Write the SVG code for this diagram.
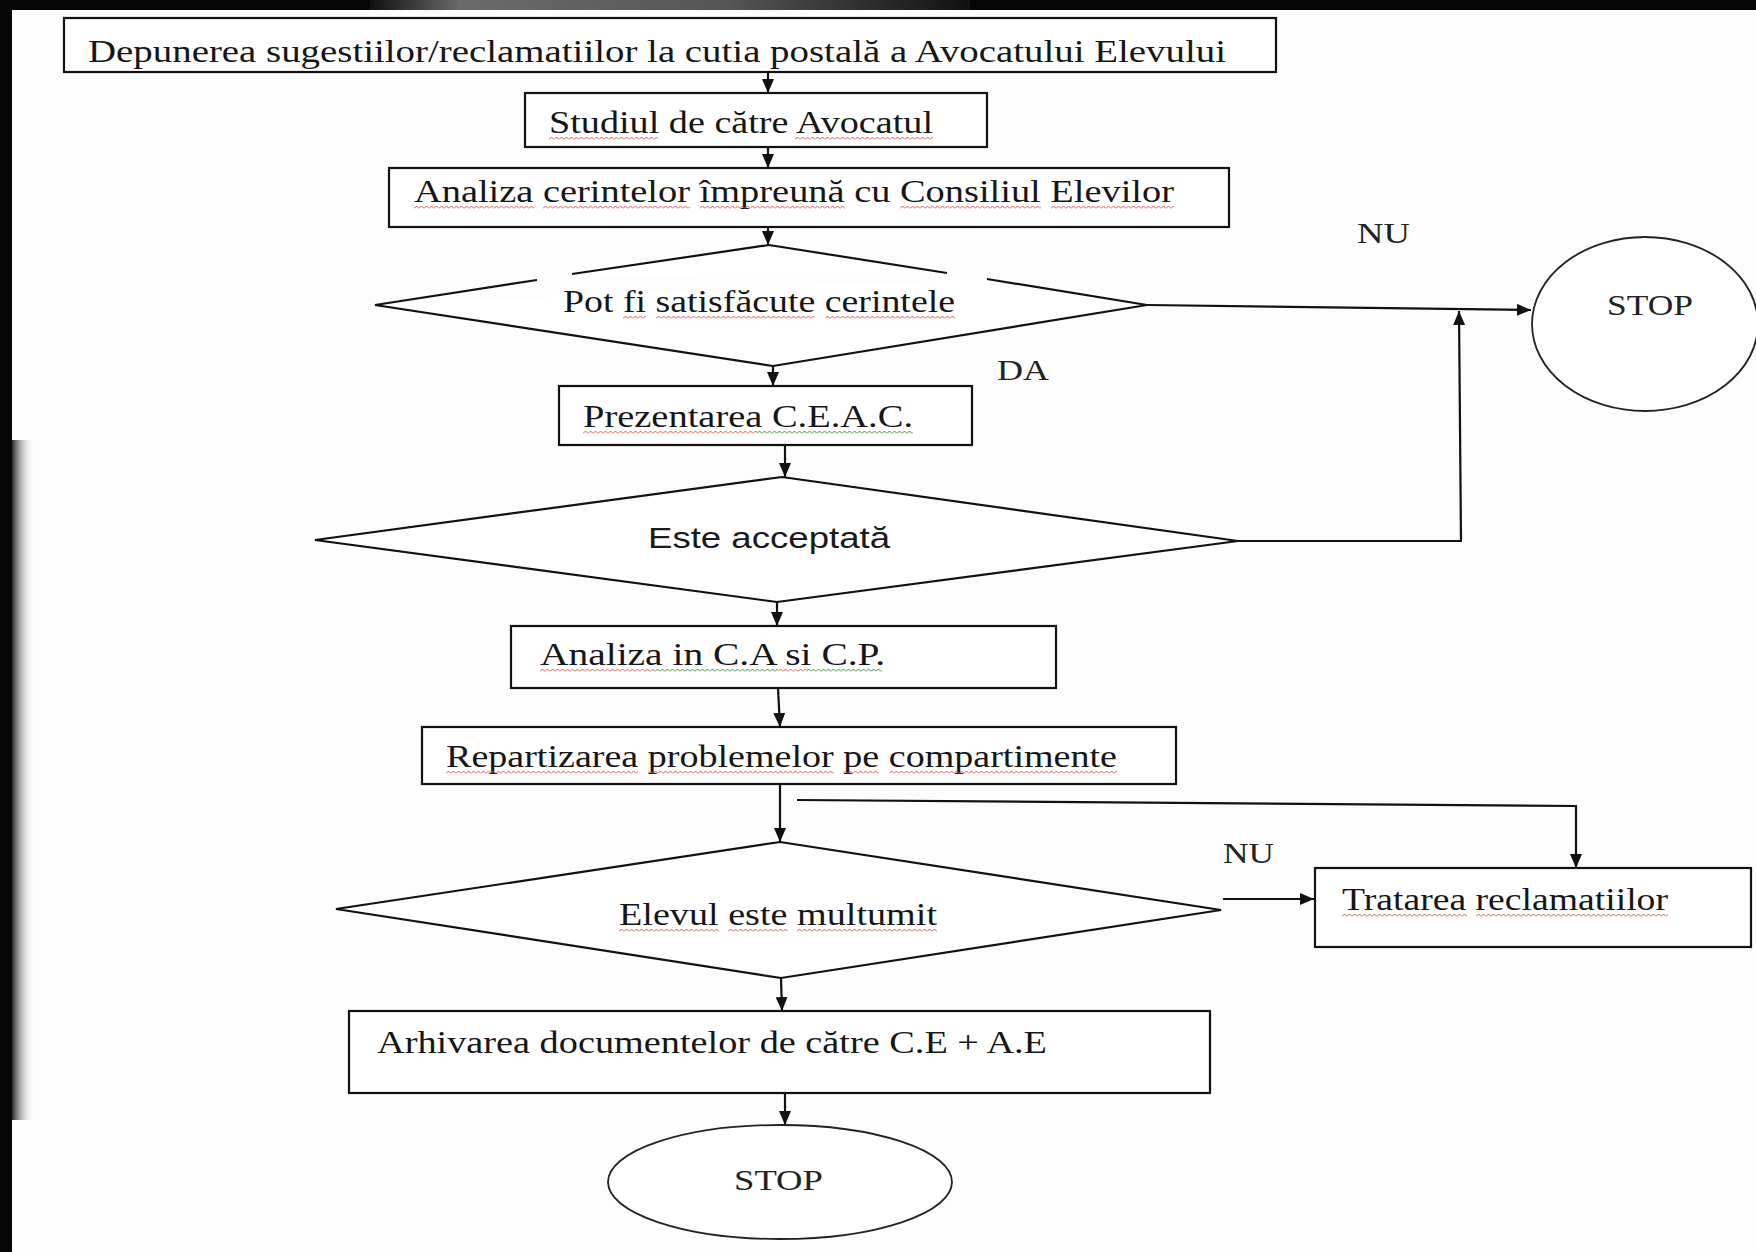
<svg xmlns="http://www.w3.org/2000/svg" width="1756" height="1252" viewBox="0 0 1756 1252">
<defs>
<style>
.box{fill:#fff;stroke:#111;stroke-width:2.2}
.shape{fill:#fff;stroke:#111;stroke-width:2.2;stroke-linejoin:miter}
.ell{fill:#fff;stroke:#222;stroke-width:1.8}
.t{font-family:"Liberation Serif","Times New Roman",serif;font-size:32px;fill:#161616}
.ts{font-family:"Liberation Sans",Arial,sans-serif;font-size:30px;fill:#1a1a1a}
.lbl{font-family:"Liberation Serif","Times New Roman",serif;font-size:30px;fill:#222}
.con{fill:none;stroke:#111;stroke-width:2.2}
</style>
<marker id="ah" viewBox="0 0 14 12" refX="14" refY="6" markerWidth="14" markerHeight="12" markerUnits="userSpaceOnUse" orient="auto">
<path d="M0,0 L14,6 L0,12 z" fill="#111"/>
</marker>
<pattern id="wr" width="5" height="5" patternUnits="userSpaceOnUse">
<polyline points="0,3.5 2.5,1 5,3.5" fill="none" stroke="#d9534f" stroke-width="1"/>
</pattern>
<pattern id="wg" width="5" height="5" patternUnits="userSpaceOnUse">
<polyline points="0,3.5 2.5,1 5,3.5" fill="none" stroke="#3d8f3d" stroke-width="1"/>
</pattern>
<linearGradient id="lg" x1="0" y1="0" x2="1" y2="0">
<stop offset="0" stop-color="#2a2a2a"/>
<stop offset="1" stop-color="#ffffff" stop-opacity="0"/>
</linearGradient>
<linearGradient id="tg" x1="0" y1="0" x2="1" y2="0">
<stop offset="0" stop-color="#111"/>
<stop offset="0.15" stop-color="#6a6a6a"/>
<stop offset="0.6" stop-color="#555"/>
<stop offset="1" stop-color="#111"/>
</linearGradient>
</defs>

<g id="background">
<rect x="0" y="0" width="1756" height="1252" fill="#fdfdfd"/>
<rect x="0" y="0" width="1756" height="10" fill="#050505"/>
<rect x="370" y="0" width="600" height="10" fill="url(#tg)"/>
<rect x="12" y="440" width="22" height="680" fill="url(#lg)"/>
<rect x="0" y="0" width="12" height="1252" fill="#050505"/>
</g>

<g id="connectors">
<path class="con" d="M768,72 L768,93" marker-end="url(#ah)"/>
<path class="con" d="M768,147 L768,168" marker-end="url(#ah)"/>
<path class="con" d="M768,227 L768,245" marker-end="url(#ah)"/>
<path class="con" d="M1147,305 L1531,310" marker-end="url(#ah)" stroke-width="2.6"/>
<path class="con" d="M773,366 L773,386" marker-end="url(#ah)"/>
<path class="con" d="M785,445 L785,477" marker-end="url(#ah)"/>
<path class="con" d="M1238,541 L1462,541"/>
<path class="con" d="M1461,541 L1459,311" marker-end="url(#ah)"/>
<path class="con" d="M777,602 L777,626" marker-end="url(#ah)"/>
<path class="con" d="M778,688 L780,727" marker-end="url(#ah)"/>
<path class="con" d="M780,784 L780,842" marker-end="url(#ah)"/>
<path class="con" d="M797,800 L1576,806 L1576,868" marker-end="url(#ah)"/>
<path class="con" d="M1223,899 L1314,899" marker-end="url(#ah)"/>
<path class="con" d="M781,978 L782,1011" marker-end="url(#ah)"/>
<path class="con" d="M785,1093 L785,1125" marker-end="url(#ah)"/>
</g>

<g id="n1">
<rect class="box" x="64" y="18" width="1212" height="54"/>
<text class="t" x="88" y="62" font-size="28" textLength="1138" lengthAdjust="spacingAndGlyphs">Depunerea sugestiilor/reclamatiilor la cutia postală a Avocatului Elevului</text>
</g>

<g id="n2">
<rect class="box" x="525" y="93" width="462" height="54"/>
<text class="t" x="549" y="133" textLength="384" lengthAdjust="spacingAndGlyphs">Studiul de către Avocatul</text>
<g transform="translate(549,136)"><rect width="109" height="5" fill="url(#wr)"/></g>
<g transform="translate(795,136)"><rect width="138" height="5" fill="url(#wr)"/></g>
</g>

<g id="n3">
<rect class="box" x="389" y="168" width="840" height="59"/>
<text class="t" x="414" y="202" textLength="760" lengthAdjust="spacingAndGlyphs">Analiza cerintelor împreună cu Consiliul Elevilor</text>
<g transform="translate(414,205)"><rect width="120" height="5" fill="url(#wr)"/></g>
<g transform="translate(543,205)"><rect width="147" height="5" fill="url(#wr)"/></g>
<g transform="translate(700,205)"><rect width="145" height="5" fill="url(#wr)"/></g>
<g transform="translate(900,205)"><rect width="141" height="5" fill="url(#wr)"/></g>
<g transform="translate(1051,205)"><rect width="123" height="5" fill="url(#wr)"/></g>
</g>

<g id="d1">
<path class="shape" d="M375,305 L537,280 M572,274 L769,245 L947,273 M987,279 L1147,305 L773,366 L375,305" fill="#fff"/>
<text class="t" x="563" y="312" textLength="392" lengthAdjust="spacingAndGlyphs">Pot fi satisfăcute cerintele</text>
<g transform="translate(623,315)"><rect width="23" height="5" fill="url(#wr)"/></g>
<g transform="translate(656,315)"><rect width="159" height="5" fill="url(#wr)"/></g>
<g transform="translate(825,315)"><rect width="130" height="5" fill="url(#wr)"/></g>
</g>

<g id="lbl-nu1">
<text class="lbl" x="1357" y="243" textLength="53" lengthAdjust="spacingAndGlyphs">NU</text>
</g>
<g id="lbl-da">
<text class="lbl" x="997" y="380" textLength="52" lengthAdjust="spacingAndGlyphs">DA</text>
</g>

<g id="stop1">
<ellipse class="ell" cx="1645" cy="324" rx="113" ry="87"/>
<text class="lbl" x="1607" y="315" font-size="34" textLength="86" lengthAdjust="spacingAndGlyphs">STOP</text>
</g>

<g id="n4">
<rect class="box" x="559" y="386" width="413" height="59"/>
<text class="t" x="583" y="427" textLength="330" lengthAdjust="spacingAndGlyphs">Prezentarea  C.E.A.C.</text>
<g transform="translate(583,430)"><rect width="174" height="5" fill="url(#wr)"/></g>
<g transform="translate(757,430)"><rect width="156" height="5" fill="url(#wg)"/></g>
</g>

<g id="d2">
<polygon class="shape" points="782,477 1238,541 777,602 315,540"/>
<text class="ts" x="648" y="548" textLength="242" lengthAdjust="spacingAndGlyphs">Este acceptată</text>
</g>

<g id="n5">
<rect class="box" x="511" y="626" width="545" height="62"/>
<text class="t" x="540" y="665" textLength="345" lengthAdjust="spacingAndGlyphs">Analiza in C.A si C.P.</text>
<g transform="translate(540,668)"><rect width="115" height="5" fill="url(#wr)"/></g>
<g transform="translate(655,668)"><rect width="123" height="5" fill="url(#wg)"/></g>
<g transform="translate(778,668)"><rect width="28" height="5" fill="url(#wr)"/></g>
<g transform="translate(806,668)"><rect width="76" height="5" fill="url(#wg)"/></g>
</g>

<g id="n6">
<rect class="box" x="422" y="727" width="754" height="57"/>
<text class="t" x="446" y="767" textLength="671" lengthAdjust="spacingAndGlyphs">Repartizarea problemelor pe compartimente</text>
<g transform="translate(446,770)"><rect width="192" height="5" fill="url(#wr)"/></g>
<g transform="translate(648,770)"><rect width="186" height="5" fill="url(#wr)"/></g>
<g transform="translate(843,770)"><rect width="36" height="5" fill="url(#wr)"/></g>
<g transform="translate(889,770)"><rect width="228" height="5" fill="url(#wr)"/></g>
</g>

<g id="d3">
<polygon class="shape" points="780,842 1221,910 781,978 336,909"/>
<text class="t" x="619" y="925" textLength="318" lengthAdjust="spacingAndGlyphs">Elevul este multumit</text>
<g transform="translate(619,928)"><rect width="100" height="5" fill="url(#wr)"/></g>
<g transform="translate(728,928)"><rect width="60" height="5" fill="url(#wr)"/></g>
<g transform="translate(797,928)"><rect width="140" height="5" fill="url(#wr)"/></g>
</g>

<g id="lbl-nu2">
<text class="lbl" x="1223" y="863" textLength="51" lengthAdjust="spacingAndGlyphs">NU</text>
</g>

<g id="n7">
<rect class="box" x="1315" y="868" width="436" height="79"/>
<text class="t" x="1342" y="910" textLength="326" lengthAdjust="spacingAndGlyphs">Tratarea reclamatiilor</text>
<g transform="translate(1342,913)"><rect width="125" height="5" fill="url(#wr)"/></g>
<g transform="translate(1476,913)"><rect width="192" height="5" fill="url(#wr)"/></g>
</g>

<g id="n8">
<rect class="box" x="349" y="1011" width="861" height="82"/>
<text class="t" x="377" y="1053" textLength="670" lengthAdjust="spacingAndGlyphs">Arhivarea documentelor de către C.E + A.E</text>
</g>

<g id="stop2">
<ellipse class="ell" cx="780" cy="1182" rx="172" ry="57"/>
<text class="lbl" x="734" y="1190" font-size="34" textLength="89" lengthAdjust="spacingAndGlyphs">STOP</text>
</g>
</svg>
